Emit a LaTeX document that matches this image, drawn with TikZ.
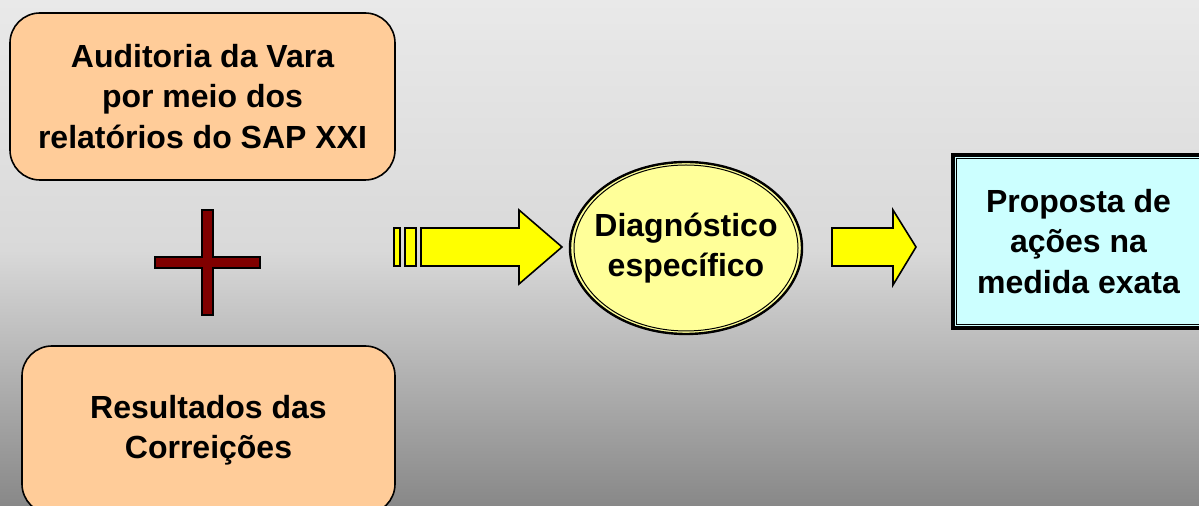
\documentclass[tikz,border=0pt]{standalone}
\usepackage{fontspec}
\setmainfont{Liberation Sans}
\usetikzlibrary{shapes.geometric}
\definecolor{peach}{HTML}{FFCC99}
\definecolor{lyellow}{HTML}{FFFF99}
\definecolor{arrowyellow}{HTML}{FFFF00}
\definecolor{lcyan}{HTML}{CCFFFF}
\definecolor{crossred}{HTML}{800000}
\definecolor{bgtop}{HTML}{E9E9E9}
\definecolor{bgmid}{HTML}{D9D9D9}
\definecolor{bgbot}{HTML}{888888}
\tikzset{
  txt/.style={font=\fontsize{16}{20.2}\selectfont\bfseries, align=center, text=black},
  roundbox/.style={txt, draw=black, line width=0.8pt, fill=peach, rounded corners=15pt, inner sep=0pt},
  blockarrow/.style={draw=black, line width=0.8pt, fill=arrowyellow, line join=miter},
  crossbar/.style={draw=black, line width=0.6pt, fill=crossred},
}
\begin{document}
\begin{tikzpicture}[x=0.5pt, y=-0.5pt]
\useasboundingbox (0,0) rectangle (1199,506);
% background
\shade[top color=bgtop, bottom color=bgmid] (0,0) rectangle (1199,250);
\shade[top color=bgmid, bottom color=bgbot] (0,250) rectangle (1199,506);

% left boxes
\node[roundbox, minimum width=192.5pt, minimum height=83.5pt] (aud) at (202.5,96.5)
  {Auditoria da Vara\\por meio dos\\relatórios do SAP XXI};
\node[roundbox, minimum width=186.5pt, minimum height=84pt] (res) at (208.5,430)
  {Resultados das\\Correições};

% plus sign
\draw[crossbar] (202,210) -- (213,210) -- (213,257) -- (260,257) -- (260,268) -- (213,268)
  -- (213,315) -- (202,315) -- (202,268) -- (155,268) -- (155,257) -- (202,257) -- cycle;

% striped arrow
\draw[blockarrow] (394,228) rectangle (400,266);
\draw[blockarrow] (405,228) rectangle (416,266);
\draw[blockarrow] (421,228) -- (519,228) -- (519,210) -- (562,247) -- (519,284)
  -- (519,266) -- (421,266) -- cycle;

% ellipse
\node[txt, ellipse, draw=black, line width=1.2pt, fill=lyellow, inner sep=-8pt,
  minimum width=116pt, minimum height=86pt] (diag) at (686,248)
  {Diagnóstico\\específico};
\draw[line width=0.5pt] (diag.center) ellipse [x radius=112, y radius=83];

% second arrow
\draw[blockarrow] (832,228) -- (893,228) -- (893,210) -- (916,247) -- (893,285)
  -- (893,266) -- (832,266) -- cycle;

% right box
\node[txt, draw=black, line width=2.2pt, fill=lcyan, inner sep=0pt,
  minimum width=125.5pt, minimum height=86.5pt] (prop) at (1078.5,241.5)
  {Proposta de\\ações na\\medida exata};
\draw[line width=0.5pt] ([shift={(6,6)}]prop.north west) rectangle ([shift={(-6,-6)}]prop.south east);
\end{tikzpicture}
\end{document}
